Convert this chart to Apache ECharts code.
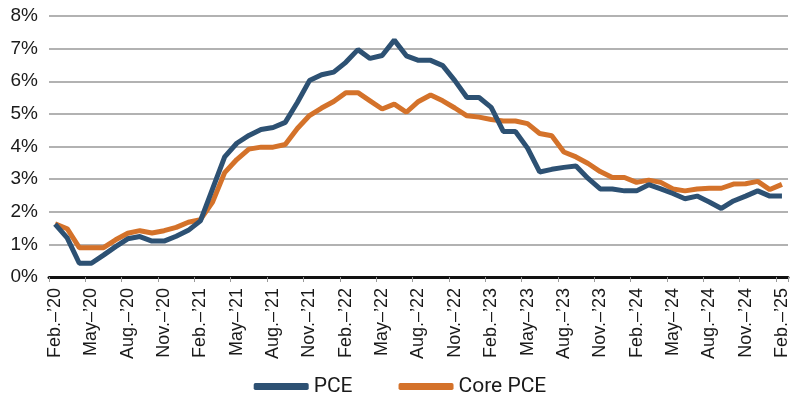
<!DOCTYPE html>
<html>
<head>
<meta charset="utf-8">
<script src="https://cdn.jsdelivr.net/npm/echarts@6/dist/echarts.min.js"></script>
<style>
  html, body { margin: 0; padding: 0; background: #fff; }
  #chart { width: 800px; height: 398px; }
</style>
</head>
<body>
<div id="chart"></div>
<script>
  // monthly, Feb 2020 .. Feb 2025
  const monthNames = ['Jan.', 'Feb.', 'Mar.', 'Apr.', 'May', 'Jun.', 'Jul.', 'Aug.', 'Sep.', 'Oct.', 'Nov.', 'Dec.'];
  const categories = [];
  for (let k = 0; k < 61; k++) {
    const m = (1 + k) % 12;
    const y = 20 + Math.floor((1 + k) / 12);
    categories.push(monthNames[m] + '\u2013\u2019' + y);
  }

  const pce = [
    1.62, 1.2, 0.42, 0.42, 0.67, 0.93, 1.17, 1.24, 1.1, 1.1, 1.25, 1.43,
    1.72, 2.7, 3.68, 4.1, 4.34, 4.52, 4.58, 4.74, 5.35, 6.02, 6.2, 6.28,
    6.58, 6.97, 6.7, 6.79, 7.26, 6.78, 6.64, 6.64, 6.48, 6.02, 5.5, 5.5,
    5.2, 4.46, 4.46, 3.95, 3.22, 3.3, 3.36, 3.4, 3.02, 2.7, 2.7, 2.64,
    2.64, 2.83, 2.7, 2.56, 2.4, 2.48, 2.3, 2.1, 2.33, 2.48, 2.64, 2.48,
    2.48
  ];
  const corePce = [
    1.63, 1.48, 0.9, 0.9, 0.9, 1.14, 1.34, 1.42, 1.35, 1.42, 1.52, 1.68,
    1.76, 2.3, 3.2, 3.6, 3.92, 3.98, 3.98, 4.06, 4.55, 4.95, 5.18, 5.38,
    5.65, 5.65, 5.4, 5.15, 5.3, 5.05, 5.38, 5.58, 5.4, 5.18, 4.94, 4.9,
    4.83, 4.78, 4.78, 4.7, 4.4, 4.33, 3.83, 3.68, 3.48, 3.23, 3.05, 3.05,
    2.9, 2.97, 2.9, 2.7, 2.64, 2.7, 2.72, 2.72, 2.85, 2.86, 2.93, 2.68,
    2.84
  ];

  const colors = ['#2D5173', '#D4722A'];

  const chart = echarts.init(document.getElementById('chart'), null, { renderer: 'canvas' });
  chart.setOption({
    animation: false,
    color: colors,
    grid: { left: 49, right: 12, top: 16, bottom: 121, containLabel: false },
    legend: {
      top: 371,
      left: 'center',
      itemWidth: 55,
      itemHeight: 7,
      itemGap: 46,
      icon: 'roundRect',
      textStyle: { fontFamily: 'Roboto', fontSize: 21, color: '#1a1a1a' },
      data: ['PCE', 'Core PCE']
    },
    xAxis: {
      type: 'category',
      boundaryGap: true,
      data: categories,
      axisLine: { lineStyle: { color: '#111', width: 3 } },
      axisTick: { show: true, interval: 2, length: 5, lineStyle: { color: '#999' } },
      axisLabel: {
        interval: 2,
        rotate: 90,
        margin: 11,
        fontFamily: 'Liberation Sans',
        fontSize: 18,
        color: '#1a1a1a'
      }
    },
    yAxis: {
      type: 'value',
      min: 0,
      max: 8,
      interval: 1,
      axisLine: { show: false },
      axisTick: { show: false },
      splitLine: { lineStyle: { color: '#999', width: 1.5 } },
      axisLabel: {
        formatter: '{value}%',
        margin: 11,
        fontFamily: 'Liberation Sans',
        fontSize: 19,
        color: '#1a1a1a'
      }
    },
    series: [
      {
        name: 'PCE',
        type: 'line',
        data: pce,
        showSymbol: false,
        lineStyle: { width: 5 },
        z: 3
      },
      {
        name: 'Core PCE',
        type: 'line',
        data: corePce,
        showSymbol: false,
        lineStyle: { width: 5 },
        z: 2
      }
    ]
  });
</script>
</body>
</html>
